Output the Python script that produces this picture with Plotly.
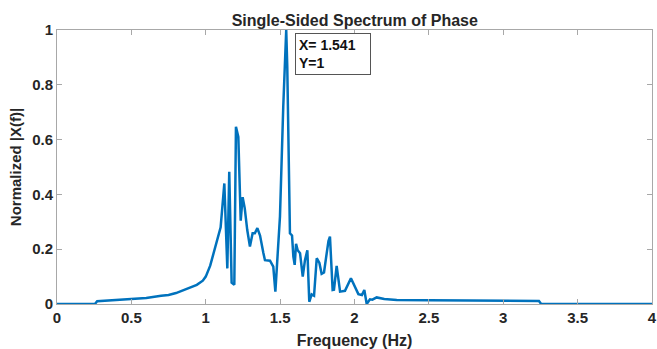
import plotly.graph_objects as go

freq = [0, 0.255, 0.27, 0.3, 0.4, 0.5, 0.6, 0.7, 0.75, 0.8, 0.87, 0.94, 0.98, 1.0, 1.03, 1.06, 1.085,
        1.10, 1.125, 1.145, 1.158, 1.174, 1.192, 1.203, 1.219, 1.235, 1.248, 1.262, 1.279, 1.297,
        1.315, 1.33, 1.347, 1.365, 1.387, 1.398, 1.432, 1.454, 1.468, 1.499, 1.521, 1.541, 1.548,
        1.557, 1.566, 1.58, 1.589, 1.598, 1.607, 1.618, 1.634, 1.652, 1.667, 1.683, 1.696, 1.712,
        1.728, 1.746, 1.764, 1.779, 1.795, 1.813, 1.825, 1.835, 1.853, 1.862, 1.88, 1.903, 1.936,
        1.976, 1.996, 2.026, 2.05, 2.066, 2.082, 2.104, 2.12, 2.149, 2.2, 2.284, 2.5, 2.8, 3.0,
        3.2, 3.24, 3.255, 3.5, 4.0]
amp = [0, 0, 0.01, 0.011, 0.013, 0.017, 0.022, 0.03, 0.033, 0.04, 0.055, 0.07, 0.085, 0.1, 0.14, 0.2, 0.26,
       0.28, 0.44, 0.13, 0.483, 0.078, 0.07, 0.647, 0.61, 0.304, 0.39, 0.35, 0.27, 0.21,
       0.258, 0.258, 0.277, 0.25, 0.187, 0.16, 0.158, 0.136, 0.045, 0.32, 0.72, 1.0, 0.866,
       0.57, 0.258, 0.25, 0.173, 0.143, 0.22, 0.196, 0.185, 0.1, 0.16, 0.196, 0.008, 0.035,
       0.03, 0.167, 0.15, 0.11, 0.115, 0.185, 0.23, 0.246, 0.051, 0.052, 0.139, 0.045, 0.048,
       0.094, 0.07, 0.036, 0.033, 0.051, 0.0, 0.017, 0.016, 0.024, 0.018, 0.015, 0.014, 0.013, 0.012,
       0.011, 0.011, 0.0, 0.0, 0.0]

x_ticks = [0, 0.5, 1, 1.5, 2, 2.5, 3, 3.5, 4]
x_tick_labels = ["0", "0.5", "1", "1.5", "2", "2.5", "3", "3.5", "4"]
y_ticks = [0, 0.2, 0.4, 0.6, 0.8, 1]
y_tick_labels = ["0", "0.2", "0.4", "0.6", "0.8", "1"]

font_family = "Liberation Sans, Arial, sans-serif"
text_color = "#262626"
axis_color = "#a8a8a8"

fig = go.Figure()
fig.add_trace(go.Scatter(x=freq, y=amp, mode="lines",
                         line=dict(color="#0072BD", width=2.5), showlegend=False))

axis_common = dict(showgrid=False, zeroline=False, showline=True, linecolor=axis_color,
                   linewidth=1, mirror="allticks", ticks="inside", ticklen=5,
                   tickcolor=axis_color, automargin=False,
                   tickfont=dict(family=font_family, size=15, color=text_color, weight="bold"))

fig.update_xaxes(range=[0, 4], tickvals=x_ticks, ticktext=x_tick_labels,
                 title=dict(text="Frequency (Hz)", standoff=12,
                            font=dict(family=font_family, size=16, color=text_color, weight="bold")),
                 **axis_common)
fig.update_yaxes(range=[0, 1], tickvals=y_ticks, ticktext=y_tick_labels,
                 title=dict(text="Normalized |X(f)|", standoff=6,
                            font=dict(family=font_family, size=15, color=text_color, weight="bold")),
                 **axis_common)

fig.add_annotation(x=1.6, y=0.99, xref="x", yref="y", xanchor="left", yanchor="top",
                   text="X= 1.541<br>Y=1", showarrow=False, align="left",
                   width=68, height=34,
                   font=dict(family=font_family, size=14, color="#111111", weight="bold"),
                   bordercolor="#555555", borderwidth=1, borderpad=3, bgcolor="white")

fig.update_layout(
    width=657, height=349,
    margin=dict(l=57, r=5, t=30, b=45),
    paper_bgcolor="white", plot_bgcolor="white",
    title=dict(text="Single-Sided Spectrum of Phase", x=0.54, xanchor="center",
               y=1 - 20 / 349, yanchor="middle",
               font=dict(family=font_family, size=16, color=text_color, weight="bold")),
)

fig.write_html("out.html")
